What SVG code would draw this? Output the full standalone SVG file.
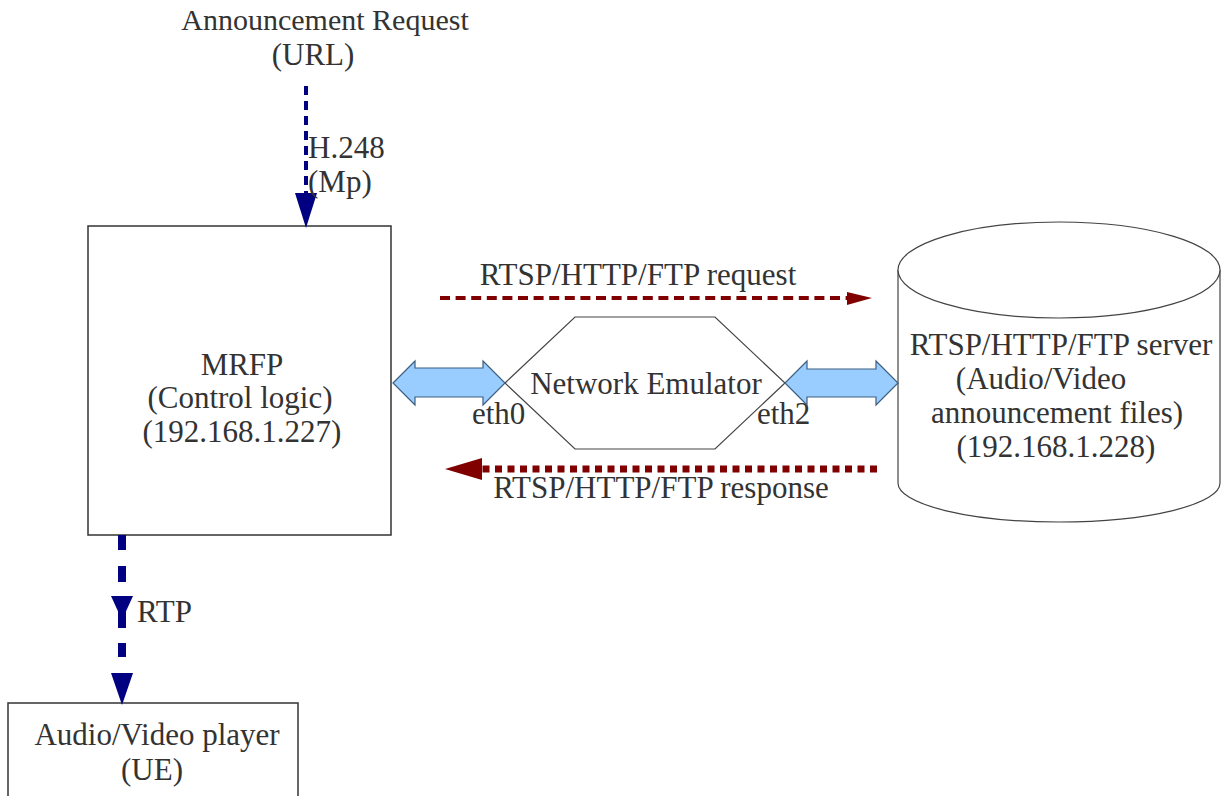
<svg xmlns="http://www.w3.org/2000/svg" width="1231" height="796" viewBox="0 0 1231 796">
  <style>
    text { font-family: "Liberation Serif", "Times New Roman", serif; font-size: 31px; fill: #333333; }
    .mid { text-anchor: middle; }
    .box { fill: #ffffff; stroke: #333333; stroke-width: 1.5; }
    .thin { fill: #ffffff; stroke: #444444; stroke-width: 1.2; }
    .dbl { fill: #99ccff; stroke: #3d5f80; stroke-width: 1.2; stroke-linejoin: miter; }
  </style>
  <rect width="1231" height="796" fill="#ffffff"/>

  <!-- MRFP control node -->
  <g id="mrfp">
    <rect class="box" x="88" y="226" width="303" height="309"/>
    <text class="mid" x="242" y="375">MRFP</text>
    <text class="mid" x="240" y="408">(Control logic)</text>
    <text class="mid" x="242" y="442">(192.168.1.227)</text>
  </g>

  <!-- Player (UE) -->
  <g id="player">
    <rect class="box" x="8" y="703" width="290" height="100"/>
    <text class="mid" x="157" y="745">Audio/Video player</text>
    <text class="mid" x="152" y="780">(UE)</text>
  </g>

  <!-- Network emulator hexagon -->
  <g id="emulator">
    <polygon class="thin" points="505,383 575,317 715,317 785,383 715,449 575,449"/>
    <text class="mid" x="646" y="394">Network Emulator</text>
    <text x="472" y="424">eth0</text>
    <text x="757" y="424">eth2</text>
  </g>

  <!-- Media server cylinder -->
  <g id="server">
    <path class="thin" d="M898,270 V483 A161,39 0 0 0 1220,483 V270"/>
    <ellipse class="thin" cx="1059" cy="270" rx="161" ry="48"/>
    <text class="mid" x="1061" y="355">RTSP/HTTP/FTP server</text>
    <text class="mid" x="1041" y="389">(Audio/Video</text>
    <text class="mid" x="1057" y="423">announcement files)</text>
    <text class="mid" x="1056" y="457">(192.168.1.228)</text>
  </g>

  <!-- Request source label -->
  <g id="request-source">
    <text class="mid" x="325" y="30" style="font-size:30px">Announcement Request</text>
    <text class="mid" x="313" y="65">(URL)</text>
  </g>

  <g id="connectors">
    <!-- H.248 control -->
    <line x1="306" y1="86" x2="306" y2="196" stroke="#000080" stroke-width="4" stroke-dasharray="9 6"/>
    <polygon points="295,193 317,193 306,228" fill="#000080"/>
    <text x="308" y="158">H.248</text>
    <text x="308" y="192">(Mp)</text>

    <!-- RTP media -->
    <path d="M122,535 V550 M122,566 V582 M122,598 V628 M122,643 V657" stroke="#000080" stroke-width="8" fill="none"/>
    <polygon points="111,596 133,596 122,620" fill="#000080"/>
    <polygon points="111,673 133,673 122,705" fill="#000080"/>
    <text x="137" y="622">RTP</text>

    <!-- Ethernet links -->
    <polygon class="dbl" points="393,383 415,361 415,368 483,368 483,361 505,383 483,405 483,397 415,397 415,405"/>
    <polygon class="dbl" points="785,383 807,361 807,369 876,369 876,361 898,383 876,405 876,397 807,397 807,405"/>

    <!-- Request -->
    <line x1="440" y1="298" x2="850" y2="298" stroke="#800000" stroke-width="4" stroke-dasharray="10 5.6"/>
    <polygon points="847,292 872,298 847,305" fill="#800000"/>
    <text class="mid" x="638" y="285">RTSP/HTTP/FTP request</text>

    <!-- Response -->
    <line x1="877" y1="469" x2="482" y2="469" stroke="#800000" stroke-width="7" stroke-dasharray="7 5.5"/>
    <polygon points="482,458 445,469 482,480" fill="#800000"/>
    <text class="mid" x="661" y="498">RTSP/HTTP/FTP response</text>
  </g>
</svg>
